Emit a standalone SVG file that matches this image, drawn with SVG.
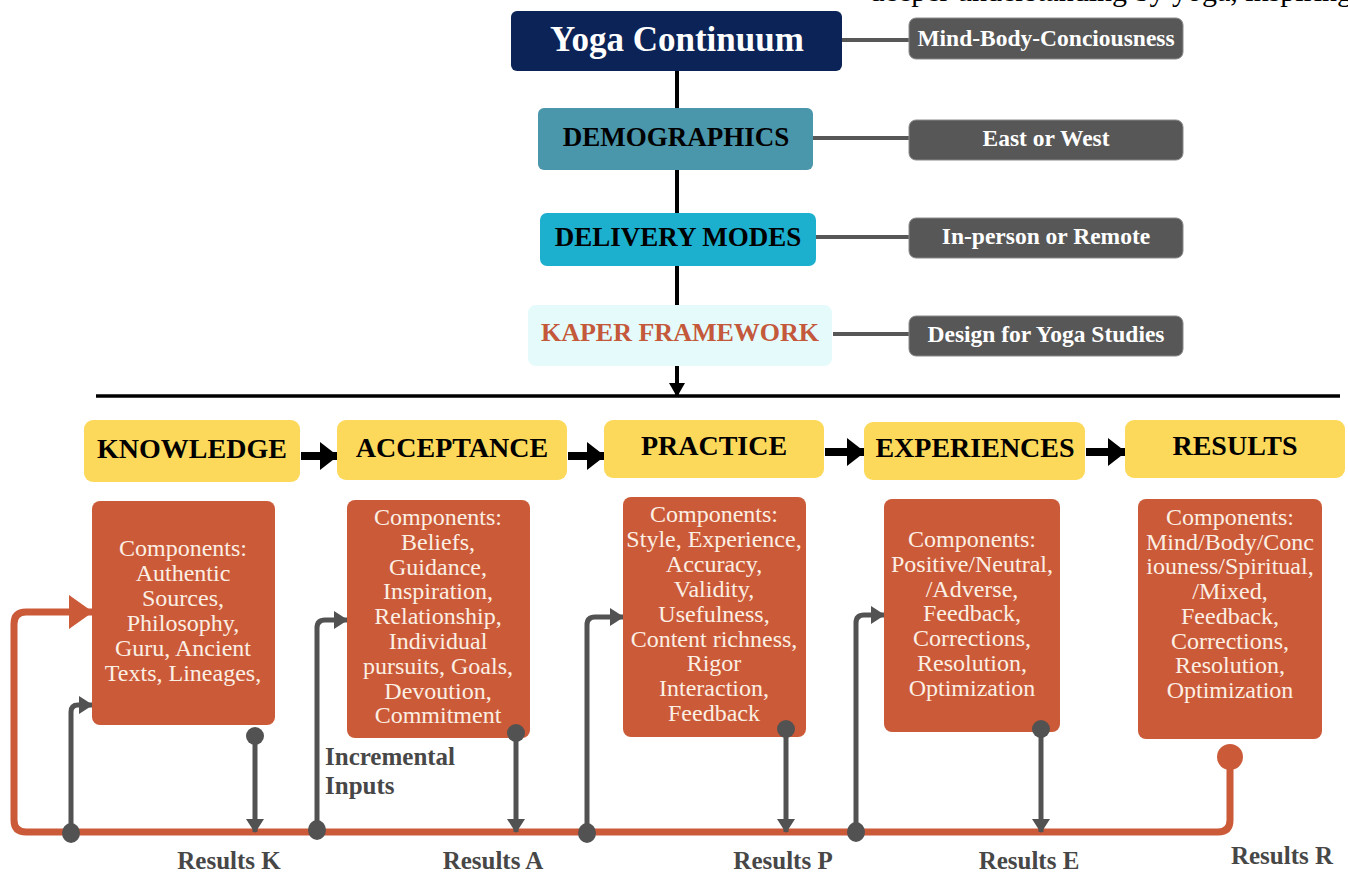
<svg xmlns="http://www.w3.org/2000/svg" width="1348" height="875" viewBox="0 0 1348 875">
<style>
.bold{font-family:"Liberation Serif","Times New Roman",serif;font-weight:bold;text-anchor:middle}
.reg{font-family:"Liberation Serif","Times New Roman",serif;text-anchor:middle;font-size:24px;fill:#fbefe4}
.gbox{fill:#575757;stroke:#8a8a8a;stroke-width:1}
.gtxt{font-size:23.5px;fill:#ffffff}
.ybox{fill:#fcd95a}
.ytxt{font-size:28px;fill:#000}
.obox{fill:#cb5a38}
.glink{stroke:#575757;stroke-width:4;fill:none}
.vline{stroke:#000;stroke-width:4;fill:none}
.gcon{stroke:#525252;stroke-width:5;fill:none}
.res{font-size:25px;fill:#474747}
</style>
<defs>
<marker id="ga" markerUnits="userSpaceOnUse" markerWidth="14" markerHeight="18" refX="13" refY="9" orient="auto"><path d="M0,0 L14,9 L0,18 Z" fill="#525252"/></marker>
<marker id="oa" markerUnits="userSpaceOnUse" markerWidth="24" markerHeight="34" refX="23" refY="17" orient="auto"><path d="M0,0 L24,17 L0,34 Z" fill="#cb5a38"/></marker>
<marker id="ka" markerUnits="userSpaceOnUse" markerWidth="18" markerHeight="28" refX="17" refY="14" orient="auto"><path d="M0,0 L18,14 L0,28 Z" fill="#000"/></marker>
<marker id="kd" markerUnits="userSpaceOnUse" markerWidth="14" markerHeight="16" refX="13" refY="8" orient="auto"><path d="M0,0 L14,8 L0,16 Z" fill="#000"/></marker>
</defs>
<rect width="1348" height="875" fill="#ffffff"/>
<text x="1352" y="1" font-family="Liberation Serif, serif" font-size="30" text-anchor="end" fill="#000">deeper understanding by yoga, inspiring</text>

<g id="connectors">
<line class="vline" x1="677" y1="71" x2="677" y2="108"/>
<line class="vline" x1="677" y1="170" x2="677" y2="213"/>
<line class="vline" x1="677" y1="266" x2="677" y2="305"/>
<line class="vline" x1="677" y1="366" x2="677" y2="396" marker-end="url(#kd)"/>
<line x1="96" y1="396" x2="1340" y2="396" stroke="#000" stroke-width="3.5"/>
<line class="glink" x1="834" y1="40" x2="910" y2="40"/>
<line class="glink" x1="813" y1="138" x2="910" y2="138"/>
<line class="glink" x1="816" y1="237" x2="910" y2="237"/>
<line class="glink" x1="833" y1="334" x2="910" y2="334"/>
<line x1="301" y1="456" x2="337" y2="456" stroke="#000" stroke-width="8" marker-end="url(#ka)"/>
<line x1="568" y1="456" x2="604" y2="456" stroke="#000" stroke-width="8" marker-end="url(#ka)"/>
<line x1="825" y1="452" x2="864" y2="452" stroke="#000" stroke-width="8" marker-end="url(#ka)"/>
<line x1="1086" y1="452" x2="1125" y2="452" stroke="#000" stroke-width="8" marker-end="url(#ka)"/>
<path d="M1230,757 V820 Q1230,832 1218,832 H26 Q14,832 14,820 V624 Q14,612 26,612 H92" stroke="#cb5a38" stroke-width="7" fill="none" marker-end="url(#oa)"/>
<circle cx="1230" cy="757" r="13" fill="#cb5a38"/>
<path class="gcon" d="M71,833 V712 Q71,705 78,705 H92" marker-end="url(#ga)"/>
<path class="gcon" d="M317,830 V628 Q317,620 325,620 H347" marker-end="url(#ga)"/>
<path class="gcon" d="M587,833 V625 Q587,617 595,617 H623" marker-end="url(#ga)"/>
<path class="gcon" d="M856,832 V623 Q856,615 864,615 H884" marker-end="url(#ga)"/>
<ellipse cx="71" cy="833" rx="9" ry="10" fill="#525252"/>
<ellipse cx="317" cy="830" rx="9" ry="10" fill="#525252"/>
<ellipse cx="587" cy="833" rx="9" ry="10" fill="#525252"/>
<ellipse cx="856" cy="832" rx="9" ry="10" fill="#525252"/>
<path class="gcon" d="M255,736 V832" marker-end="url(#ga)"/>
<path class="gcon" d="M516,733 V832" marker-end="url(#ga)"/>
<path class="gcon" d="M786,729 V832" marker-end="url(#ga)"/>
<path class="gcon" d="M1041,729 V832" marker-end="url(#ga)"/>
</g>

<g id="yoga-continuum"><rect x="511" y="11" width="331" height="60" rx="6" fill="#0b2356"/><text class="bold" x="677" y="51" font-size="35" fill="#fff">Yoga Continuum</text></g>
<g id="mind-body"><rect class="gbox" x="909" y="18" width="274" height="41" rx="7"/><text class="bold gtxt" x="1046" y="46">Mind-Body-Conciousness</text></g>
<g id="demographics"><rect x="538" y="108" width="275" height="62" rx="6" fill="#4a96aa"/><text class="bold" x="676" y="146" font-size="27" fill="#000">DEMOGRAPHICS</text></g>
<g id="east-west"><rect class="gbox" x="909" y="120" width="274" height="40" rx="7"/><text class="bold gtxt" x="1046" y="146">East or West</text></g>
<g id="delivery"><rect x="540" y="213" width="276" height="53" rx="7" fill="#1cb0ce"/><text class="bold" x="678" y="246" font-size="27" fill="#000">DELIVERY MODES</text></g>
<g id="in-person"><rect class="gbox" x="909" y="218" width="274" height="40" rx="7"/><text class="bold gtxt" x="1046" y="244">In-person or Remote</text></g>
<g id="kaper"><rect x="528" y="305" width="304" height="61" rx="8" fill="#e4fafb"/><text class="bold" x="680" y="341" font-size="26" fill="#c4583a">KAPER FRAMEWORK</text></g>
<g id="design"><rect class="gbox" x="909" y="316" width="274" height="40" rx="7"/><text class="bold gtxt" x="1046" y="342">Design for Yoga Studies</text></g>

<g id="knowledge"><rect class="ybox" x="84" y="420" width="216" height="62" rx="9"/><text class="bold ytxt" x="192" y="458">KNOWLEDGE</text></g>
<g id="acceptance"><rect class="ybox" x="337" y="420" width="230" height="60" rx="9"/><text class="bold ytxt" x="452" y="457">ACCEPTANCE</text></g>
<g id="practice"><rect class="ybox" x="604" y="420" width="220" height="58" rx="9"/><text class="bold ytxt" x="714" y="455">PRACTICE</text></g>
<g id="experiences"><rect class="ybox" x="864" y="422" width="221" height="58" rx="9"/><text class="bold ytxt" x="975" y="457">EXPERIENCES</text></g>
<g id="results"><rect class="ybox" x="1125" y="420" width="220" height="58" rx="9"/><text class="bold ytxt" x="1235" y="455">RESULTS</text></g>

<g id="comp-k"><rect class="obox" x="92" y="501" width="183" height="224" rx="8"/>
<text class="reg" x="183" y="556"><tspan x="183">Components:</tspan><tspan x="183" dy="25">Authentic</tspan><tspan x="183" dy="25">Sources,</tspan><tspan x="183" dy="25">Philosophy,</tspan><tspan x="183" dy="25">Guru, Ancient</tspan><tspan x="183" dy="25">Texts, Lineages,</tspan></text></g>
<g id="comp-a"><rect class="obox" x="347" y="500" width="183" height="238" rx="8"/>
<text class="reg" x="438" y="525"><tspan x="438">Components:</tspan><tspan x="438" dy="24.8">Beliefs,</tspan><tspan x="438" dy="24.8">Guidance,</tspan><tspan x="438" dy="24.8">Inspiration,</tspan><tspan x="438" dy="24.8">Relationship,</tspan><tspan x="438" dy="24.8">Individual</tspan><tspan x="438" dy="24.8">pursuits, Goals,</tspan><tspan x="438" dy="24.8">Devoution,</tspan><tspan x="438" dy="24.8">Commitment</tspan></text></g>
<g id="comp-p"><rect class="obox" x="623" y="497" width="183" height="240" rx="8"/>
<text class="reg" x="714" y="522"><tspan x="714">Components:</tspan><tspan x="714" dy="24.9">Style, Experience,</tspan><tspan x="714" dy="24.9">Accuracy,</tspan><tspan x="714" dy="24.9">Validity,</tspan><tspan x="714" dy="24.9">Usefulness,</tspan><tspan x="714" dy="24.9">Content richness,</tspan><tspan x="714" dy="24.9">Rigor</tspan><tspan x="714" dy="24.9">Interaction,</tspan><tspan x="714" dy="24.9">Feedback</tspan></text></g>
<g id="comp-e"><rect class="obox" x="884" y="499" width="176" height="233" rx="8"/>
<text class="reg" x="972" y="547"><tspan x="972">Components:</tspan><tspan x="972" dy="24.8">Positive/Neutral,</tspan><tspan x="972" dy="24.8">/Adverse,</tspan><tspan x="972" dy="24.8">Feedback,</tspan><tspan x="972" dy="24.8">Corrections,</tspan><tspan x="972" dy="24.8">Resolution,</tspan><tspan x="972" dy="24.8">Optimization</tspan></text></g>
<g id="comp-r"><rect class="obox" x="1138" y="499" width="184" height="240" rx="8"/>
<text class="reg" x="1230" y="525"><tspan x="1230">Components:</tspan><tspan x="1230" dy="24.7">Mind/Body/Conc</tspan><tspan x="1230" dy="24.7">iouness/Spiritual,</tspan><tspan x="1230" dy="24.7">/Mixed,</tspan><tspan x="1230" dy="24.7">Feedback,</tspan><tspan x="1230" dy="24.7">Corrections,</tspan><tspan x="1230" dy="24.7">Resolution,</tspan><tspan x="1230" dy="24.7">Optimization</tspan></text></g>

<g id="circles-top">
<circle cx="255" cy="736" r="9" fill="#525252"/>
<circle cx="516" cy="733" r="9" fill="#525252"/>
<circle cx="786" cy="729" r="9" fill="#525252"/>
<circle cx="1041" cy="729" r="9" fill="#525252"/>
</g>

<g id="labels">
<text class="bold res" x="325" y="765" style="text-anchor:start">Incremental</text>
<text class="bold res" x="325" y="794" style="text-anchor:start">Inputs</text>
<text class="bold res" x="229" y="869">Results K</text>
<text class="bold res" x="493" y="869">Results A</text>
<text class="bold res" x="783" y="869">Results P</text>
<text class="bold res" x="1029" y="869">Results E</text>
<text class="bold res" x="1282" y="864">Results R</text>
</g>
</svg>
